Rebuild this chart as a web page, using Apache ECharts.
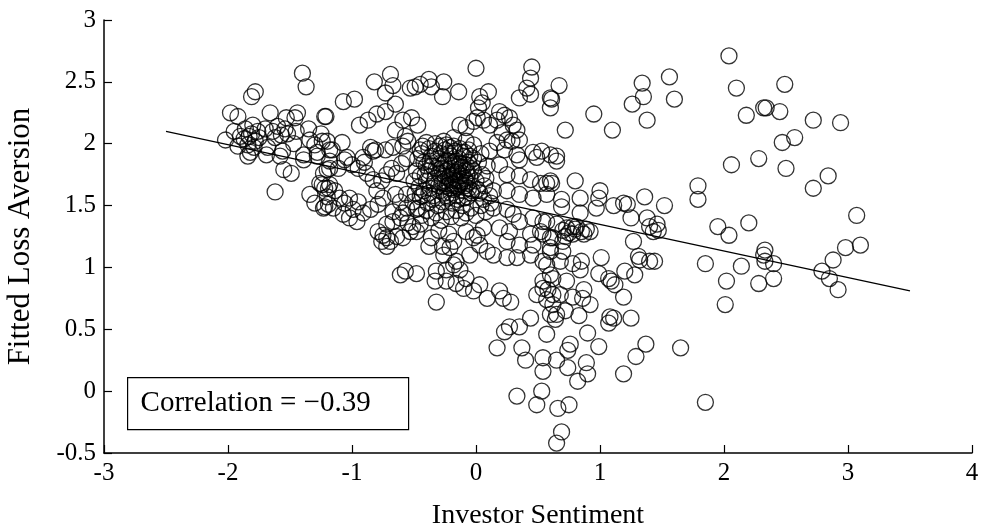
<!DOCTYPE html>
<html>
<head>
<meta charset="utf-8">
<script src="https://cdn.jsdelivr.net/npm/echarts@6/dist/echarts.min.js"></script>
<style>
html,body{margin:0;padding:0;background:#fff;}
#chart{width:981px;height:529px;}
</style>
</head>
<body>
<div id="chart"></div>
<script>
// Axis ticks
const xTicks = [-3, -2, -1, 0, 1, 2, 3, 4];
const yTicks = [-0.5, 0, 0.5, 1, 1.5, 2, 2.5, 3];

// Observations [Investor Sentiment, Fitted Loss Aversion], grouped by region
const groupFarLeft = [
 [-1.40,2.57],[-1.37,2.46],[-1.78,2.42],[-1.81,2.38],[-1.98,2.25],[-1.92,2.22],[-1.66,2.25],[-1.53,2.21],[-1.44,2.25],[-1.46,2.21],[-1.22,2.22],[-2.02,2.03],
 [-1.86,2.12],[-1.83,2.06],[-1.80,2.15],[-1.78,2.02],[-1.76,2.10],[-1.84,1.99],[-1.81,2.08],[-1.75,2.05],[-1.79,1.97],[-1.87,2.04],
 [-1.64,2.10],[-1.60,2.14],[-1.57,2.07],[-1.54,2.12],[-1.62,2.05],[-1.52,2.08],
 [-1.92,1.98],[-1.82,1.93],[-1.68,1.97],[-1.56,1.94],[-1.39,1.91],[-1.28,1.93],[-1.34,2.03],[-1.24,2.02],[-1.18,1.95],
 [-1.84,1.90],[-1.55,1.79],[-1.49,1.76],[-1.62,1.61],[-1.34,1.59],[-1.30,1.52],[-1.22,1.49],[-1.23,1.76],[-1.18,1.80],[-1.24,1.67],[-1.19,1.64],[-1.39,1.87],[-1.28,1.90],[-1.58,1.90],[-1.69,1.91],
 [-1.95,2.10],[-1.90,2.06],[-1.70,2.12],[-1.45,2.10],[-1.35,2.12],[-1.30,1.99],[-1.47,2.00],[-1.25,2.08]
];
const groupLeft = [
 [-1.07,2.34],[-0.98,2.36],[-1.21,2.22],[-0.94,2.15],[-0.87,2.19],[-0.80,2.24],[-0.73,2.26],[-0.59,2.19],[-0.52,2.21],[-0.47,2.15],[-0.65,2.11],[-0.57,2.06],
 [-0.69,2.56],[-0.82,2.50],[-0.67,2.47],[-0.73,2.41],[-0.65,2.32],[-0.53,2.45],[-0.49,2.46],[-0.45,2.48],[-0.38,2.52],[-0.36,2.46],[-0.26,2.50],[-0.27,2.38],[-0.14,2.42],
 [-1.20,2.02],[-1.16,1.95],[-1.08,2.01],[-1.04,1.89],[-0.85,1.97],[-0.83,1.94],[-0.81,1.95],[-0.73,1.95],[-0.91,1.89],[-0.67,1.97],[-0.59,1.98],[-0.55,2.02],[-0.40,2.01],[-0.45,1.95],
 [-1.18,1.86],[-1.20,1.79],[-1.11,1.80],[-1.06,1.87],[-0.83,1.71],[-0.76,1.70],[-0.72,1.75],[-0.68,1.80],[-0.64,1.76],[-0.60,1.84],[-0.56,1.88],
 [-1.26,1.68],[-1.22,1.64],[-1.18,1.67],[-1.20,1.57],[-1.14,1.62],[-1.10,1.56],[-1.06,1.52],[-1.02,1.56],[-0.99,1.47],[-0.95,1.53],[-0.91,1.44],[-0.85,1.47],[-1.02,1.40],[-1.07,1.43],[-0.96,1.37],
 [-1.23,1.48],[-1.19,1.51],[-1.15,1.48],
 [-0.79,1.29],[-0.75,1.26],[-0.72,1.24],[-0.69,1.21],[-0.76,1.21],[-0.72,1.17],[-0.64,1.25],[-0.59,1.24],
 [-0.72,1.35],[-0.67,1.37],[-0.61,1.40],[-0.55,1.36],[-0.51,1.33],[-0.48,1.29],[-0.53,1.29],[-0.45,1.35],
 [-0.65,1.59],[-0.61,1.53],[-0.56,1.59],[-0.51,1.53],[-0.45,1.57],[-0.56,1.48],[-0.48,1.47],[-0.67,1.45],[-0.59,1.44],
 [-0.80,1.62],[-0.75,1.56],[-0.79,1.51],
 [-0.90,1.85],[-0.95,1.80],[-1.00,1.83],[-0.88,1.76],
 [-0.36,1.24],[-0.30,1.30],[-0.22,1.27],[-0.38,1.17],[-0.27,1.17]
];
const groupTop = [
 [0.00,2.61],[0.45,2.62],[0.44,2.53],[0.41,2.45],[0.44,2.40],[0.35,2.37],[0.60,2.37],[0.10,2.42],[0.03,2.38],[0.05,2.33],[0.02,2.29],
 [-0.13,2.15],[-0.08,2.13],[-0.02,2.18],[0.01,2.21],[0.06,2.19],[0.11,2.15],[0.17,2.19],[0.19,2.26],[0.23,2.23],[0.27,2.21],[0.30,2.15],[0.21,2.09],[0.33,2.11],[0.35,2.03],[0.46,1.93],[0.53,1.94],[0.60,1.91],[0.25,2.03],[0.29,2.02],[-0.18,2.05],[-0.24,1.99],[-0.08,2.02],[-0.02,1.99],[0.17,2.01],[0.11,1.94],[0.23,1.95],[0.33,1.91]
];
const groupCore = [
 [-0.42,1.85],[-0.38,1.78],[-0.35,1.82],[-0.33,1.72],[-0.31,1.88],[-0.30,1.76],[-0.28,1.80],[-0.27,1.69],[-0.26,1.84],[-0.25,1.74],[-0.24,1.78],[-0.23,1.66],[-0.22,1.86],[-0.21,1.71],[-0.20,1.80],[-0.19,1.75],[-0.18,1.63],[-0.17,1.83],[-0.16,1.70],[-0.15,1.77],[-0.14,1.88],[-0.13,1.67],[-0.12,1.74],[-0.11,1.81],[-0.10,1.62],[-0.09,1.72],[-0.08,1.79],[-0.07,1.68],[-0.06,1.85],[-0.05,1.73],
 [-0.40,1.70],[-0.37,1.64],[-0.36,1.90],[-0.34,1.68],[-0.32,1.80],[-0.29,1.62],[-0.28,1.92],[-0.27,1.76],[-0.26,1.60],[-0.25,1.70],[-0.24,1.86],[-0.23,1.79],[-0.22,1.73],[-0.21,1.64],[-0.20,1.90],[-0.19,1.68],[-0.18,1.77],[-0.17,1.72],[-0.16,1.86],[-0.15,1.65],[-0.14,1.79],[-0.13,1.84],[-0.12,1.69],[-0.11,1.76],[-0.10,1.90],[-0.09,1.66],[-0.08,1.83],[-0.07,1.75],[-0.06,1.64],[-0.04,1.80],
 [-0.48,1.78],[-0.46,1.65],[-0.44,1.92],[-0.43,1.58],[-0.41,1.75],[-0.39,1.52],[-0.38,1.96],[-0.35,1.55],[-0.33,1.94],[-0.31,1.50],[-0.29,1.98],[-0.27,1.53],[-0.25,1.95],[-0.23,1.56],[-0.21,1.97],[-0.19,1.52],[-0.17,1.94],[-0.15,1.55],[-0.13,1.96],[-0.11,1.50],[-0.09,1.93],[-0.07,1.57],[-0.05,1.90],[-0.03,1.62],[-0.02,1.78],[0.00,1.70],[0.02,1.85],[0.03,1.60],[0.05,1.75],[0.07,1.66],[0.09,1.82],[0.11,1.58],
 [-0.47,1.48],[-0.44,1.42],[-0.40,1.46],[-0.36,1.40],[-0.32,1.44],[-0.28,1.38],[-0.24,1.45],[-0.20,1.41],[-0.16,1.46],[-0.12,1.40],[-0.08,1.44],[-0.04,1.48],[0.00,1.42],[0.04,1.50],[0.08,1.45],[0.12,1.52],
 [-0.50,1.70],[-0.49,1.60],[-0.47,1.88],[-0.45,1.74],[-0.43,1.98],[-0.42,1.62],[-0.40,1.82],[-0.38,1.60],[-0.37,1.86],[-0.34,1.58],[-0.33,2.00],[-0.30,1.66],[-0.29,1.84],[-0.26,2.02],[-0.24,1.58],[-0.22,1.92],[-0.20,1.60],[-0.18,1.98],[-0.16,1.58],[-0.14,1.70],[-0.12,1.93],[-0.10,1.56],[-0.08,1.70],[-0.06,1.95],[-0.04,1.60],[-0.02,1.88],[0.01,1.63],[0.04,1.92],[0.06,1.55],[0.08,1.72]
];
const groupMidRight = [
 [0.19,1.83],[0.35,1.87],[0.49,1.89],[0.25,1.75],[0.35,1.74],[0.44,1.71],[0.52,1.68],[0.60,1.70],[0.14,1.62],[0.25,1.62],[0.35,1.59],[0.46,1.56],[0.57,1.59],[0.14,1.48],[0.25,1.47],[0.30,1.43],[0.35,1.37],[0.46,1.40],[0.54,1.37],[0.19,1.32],[0.27,1.29],[0.44,1.27],[0.52,1.29],[0.60,1.24],[0.25,1.21],[0.35,1.18],[0.46,1.18],[0.14,1.10],[0.25,1.08],[0.33,1.08],[0.44,1.10],[0.54,1.05],[0.60,1.13]
];
const groupLow = [
 [-0.61,0.94],[-0.57,0.97],[-0.48,0.95],[-0.32,0.97],[-0.33,0.89],[-0.24,0.98],[-0.18,1.02],[-0.13,0.98],[-0.24,0.89],[-0.16,0.87],[-0.10,0.83],[-0.02,0.81],[-0.08,0.91],[0.03,0.86],[-0.32,0.72],[0.09,0.75],[0.19,0.81],[0.28,0.72],[0.49,0.78],[0.54,0.83],[0.60,0.94],[-0.26,1.10],[-0.21,1.16],[-0.16,1.05],[-0.05,1.10],[0.03,1.18],[0.09,1.13],[-0.02,1.24],[-0.18,1.21],[-0.08,1.29],[0.01,1.26],[0.06,1.32],
 [0.22,0.75],[0.44,0.59],[0.35,0.52],[0.27,0.52],[0.23,0.48],[0.17,0.35],[0.37,0.35],[0.40,0.25],[0.54,0.27],[0.54,0.16],[0.57,0.46],[0.60,0.62],[0.33,-0.04],[0.53,0.00],[0.49,-0.11]
];
const groupRightCenter = [
 [0.80,1.70],[0.65,1.90],[0.65,1.86],[0.57,1.68],[0.61,1.68],[0.69,1.55],[0.69,1.49],[0.84,1.44],[0.84,1.56],[1.00,1.62],[0.99,1.56],[0.97,1.48],[1.11,1.50],[1.19,1.52],[1.22,1.51],[1.36,1.57],[1.52,1.50],[1.25,1.40],[1.38,1.40],[1.40,1.33],[1.46,1.35],[1.43,1.29],[1.47,1.30],[1.27,1.21],[1.01,1.08],[1.31,1.09],[1.32,1.06],[1.40,1.05],[1.44,1.05],[1.20,0.97],[1.28,0.94],[0.99,0.95],[1.07,0.91],[1.09,0.89],[1.12,0.86],[0.85,1.05],[0.78,1.03],[0.84,0.98],[1.19,0.76],[0.87,0.82],
 [0.57,1.37],[0.65,1.35],[0.73,1.32],[0.81,1.33],[0.89,1.31],[0.92,1.29],[0.54,1.27],[0.62,1.24],[0.70,1.21],[0.78,1.27],[0.87,1.27],[0.60,1.16],[0.70,1.13],[0.68,1.05],[0.57,1.02],[0.54,0.89],[0.62,0.91],[0.73,0.89],[0.58,0.82],[0.62,0.78],[0.68,0.78],[0.78,0.76],[0.86,0.75],[0.92,0.70],
 [0.70,1.30],[0.75,1.28],[0.80,1.31],[0.85,1.29],[0.72,1.25],[0.78,1.33],
 [2.01,0.70],[1.65,0.35],[1.85,-0.09],[1.37,0.38],[1.29,0.28],[1.19,0.14],[1.25,0.59],[1.07,0.55],[1.08,0.60],[1.11,0.59],[0.83,0.61],[0.90,0.47],[0.99,0.36],[0.76,0.38],[0.74,0.33],[0.65,0.25],[0.74,0.19],[0.89,0.23],[0.90,0.14],[0.82,0.08],[0.66,-0.14],[0.75,-0.11],[0.69,-0.33],[0.65,-0.42],[0.57,0.74],[0.62,0.70],[0.65,0.62],[0.72,0.65],[0.64,0.58]
];
const groupFarRight = [
 [2.04,2.71],[2.10,2.45],[2.18,2.23],[2.32,2.29],[2.34,2.29],[2.28,1.88],[2.06,1.83],[1.56,2.54],[1.34,2.49],[1.35,2.38],[1.60,2.36],[1.26,2.32],[1.38,2.19],[1.10,2.11],[0.95,2.24],[0.67,2.47],[0.61,2.36],[0.60,2.29],[0.72,2.11],
 [2.49,2.48],[2.45,2.26],[2.72,2.19],[2.94,2.17],[2.57,2.05],[2.47,2.01],[2.50,1.80],
 [2.84,1.74],[2.72,1.64],[3.07,1.42],[3.10,1.18],[2.98,1.16],[2.88,1.06],[2.79,0.97],[2.85,0.91],[2.92,0.82],[2.33,1.14],[2.32,1.10],[2.33,1.05],[2.40,1.03],[2.40,0.91],[2.28,0.87],
 [1.79,1.66],[1.79,1.55],[1.95,1.33],[2.04,1.26],[2.20,1.36],[1.85,1.03],[2.14,1.01],[2.02,0.89]
];

// Fitted line end points
const fitSentiment = [-2.5, 3.5];
const fitAversion = [2.10, 0.81];

const correlationLabel = 'Correlation = \u22120.39';

const observations = [].concat(groupFarLeft, groupLeft, groupTop, groupCore, groupMidRight, groupLow, groupRightCenter, groupFarRight);

const serif = "'Liberation Serif', 'DejaVu Serif', serif";
const chart = echarts.init(document.getElementById('chart'), null, {renderer: 'canvas'});

const axisCommon = {
  axisLine: {show: true, onZero: false, lineStyle: {color: '#000', width: 1.5}},
  axisTick: {show: true, inside: true, length: 8, lineStyle: {color: '#000', width: 1.2}},
  splitLine: {show: false}
};

chart.setOption({
  animation: false,
  backgroundColor: '#fff',
  grid: {left: 104, right: 9, top: 20, bottom: 76, containLabel: false, outerBoundsMode: 'none'},
  xAxis: Object.assign({}, axisCommon, {
    type: 'value', min: xTicks[0], max: xTicks[xTicks.length - 1], interval: 1,
    name: 'Investor Sentiment', nameLocation: 'middle', nameGap: 49,
    nameTextStyle: {color: '#000', fontFamily: serif, fontSize: 28},
    axisLabel: {color: '#000', fontFamily: serif, fontSize: 25, margin: 8}
  }),
  yAxis: Object.assign({}, axisCommon, {
    type: 'value', min: yTicks[0], max: yTicks[yTicks.length - 1], interval: 0.5,
    name: 'Fitted Loss Aversion', nameLocation: 'middle', nameGap: 68, nameRotate: 90,
    nameTextStyle: {color: '#000', fontFamily: serif, fontSize: 31},
    axisLabel: {color: '#000', fontFamily: serif, fontSize: 25, margin: 8}
  }),
  series: [
    {
      type: 'scatter',
      data: observations,
      symbol: 'circle',
      symbolSize: 16,
      itemStyle: {color: 'rgba(0,0,0,0)', borderColor: '#000', borderWidth: 1.3},
      emphasis: {disabled: true},
      silent: true,
      z: 2
    },
    {
      type: 'line',
      data: fitSentiment.map((v, i) => [v, fitAversion[i]]),
      symbol: 'none',
      lineStyle: {color: '#000', width: 1.3},
      silent: true,
      z: 3
    }
  ],
  graphic: [
    {
      type: 'group', left: 127, top: 377, z: 10,
      children: [
        {type: 'rect', shape: {x: 0, y: 0, width: 281, height: 52}, style: {fill: '#fff', stroke: '#000', lineWidth: 1.2}},
        {type: 'text', x: 13, y: 26, style: {text: correlationLabel, fill: '#000', font: "29px 'Liberation Serif', 'DejaVu Serif', serif", verticalAlign: 'middle', align: 'left'}}
      ]
    }
  ]
});
</script>
</body>
</html>
